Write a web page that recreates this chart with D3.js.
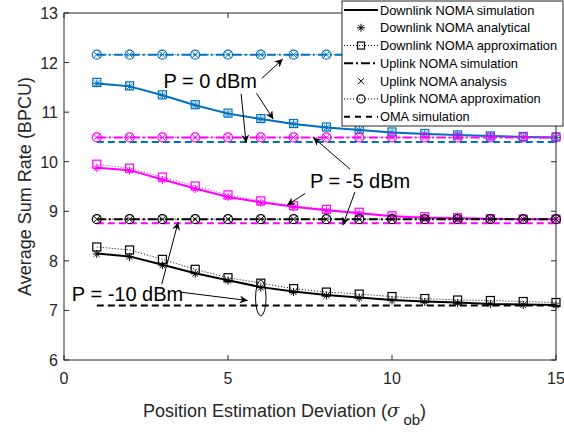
<!DOCTYPE html>
<html><head><meta charset="utf-8">
<script src="https://cdn.jsdelivr.net/npm/d3@7"></script>
<style>body{margin:0;background:#fff}svg{display:block}</style>
</head><body><svg id="c" width="564" height="434"></svg>
<script>
const xs = [1,2,3,4,5,6,7,8,9,10,11,12,13,14,15];
// P = 0 dBm (blue)
const dl0Sim    = [11.58,11.52,11.34,11.14,10.97,10.86,10.76,10.69,10.64,10.59,10.56,10.54,10.52,10.50,10.49];
const dl0Ana    = [11.58,11.52,11.34,11.14,10.97,10.86,10.76,10.69,10.64,10.59,10.56,10.54,10.52,10.50,10.49];
const dl0Apx    = [11.60,11.53,11.35,11.15,10.98,10.87,10.77,10.70,10.65,10.60,10.57,10.54,10.52,10.51,10.50];
const ul0       = [12.16,12.16,12.16,12.16,12.16,12.16,12.16,12.16,12.16,12.16,12.16,12.16,12.16,12.16,12.16];
const oma0      = [10.40,10.40,10.40,10.40,10.40,10.40,10.40,10.40,10.40,10.40,10.40,10.40,10.40,10.40,10.40];
// P = -5 dBm (magenta)
const dl5Sim    = [9.88,9.83,9.64,9.46,9.29,9.18,9.09,9.02,8.96,8.90,8.87,8.86,8.85,8.84,8.84];
const dl5Ana    = [9.87,9.82,9.63,9.45,9.29,9.17,9.08,9.01,8.96,8.90,8.87,8.86,8.85,8.84,8.84];
const dl5Apx    = [9.95,9.87,9.69,9.51,9.33,9.21,9.11,9.04,8.98,8.91,8.89,8.87,8.85,8.84,8.84];
const ul5       = [10.49,10.49,10.49,10.49,10.49,10.49,10.49,10.49,10.49,10.49,10.49,10.49,10.49,10.49,10.49];
const oma5      = [8.76,8.76,8.76,8.76,8.76,8.76,8.76,8.76,8.76,8.76,8.76,8.76,8.76,8.76,8.76];
// P = -10 dBm (black)
const dl10Sim   = [8.15,8.09,7.92,7.75,7.61,7.47,7.38,7.31,7.26,7.21,7.18,7.16,7.13,7.12,7.11];
const dl10Ana   = [8.14,8.08,7.91,7.74,7.60,7.46,7.37,7.30,7.25,7.20,7.17,7.15,7.13,7.11,7.10];
const dl10Apx   = [8.28,8.22,8.03,7.83,7.66,7.55,7.44,7.37,7.33,7.28,7.24,7.21,7.20,7.18,7.16];
const ul10      = [8.84,8.84,8.84,8.84,8.84,8.84,8.84,8.84,8.84,8.84,8.84,8.84,8.84,8.84,8.84];
const oma10     = [7.10,7.10,7.10,7.10,7.10,7.10,7.10,7.10,7.10,7.10,7.10,7.10,7.10,7.10,7.10];

const xTicks = [0,5,10,15];
const yTicks = [6,7,8,9,10,11,12,13];
const legendLabels = ["Downlink NOMA simulation","Downlink NOMA analytical","Downlink NOMA approximation",
  "Uplink NOMA simulation","Uplink NOMA analysis","Uplink NOMA approximation","OMA simulation"];
const powerLabels = ["P = 0 dBm","P = -5 dBm","P = -10 dBm"];
const powerColors = ["#0072BD","#FF00FF","#000000"];

const svg = d3.select("#c");
const FONT = "'Liberation Sans', Arial, Helvetica, sans-serif";
const AX = "#262626";
const L = 64, R = 556, T = 13, B = 360;
const x = d3.scaleLinear().domain([0,15]).range([L,R]);
const y = d3.scaleLinear().domain([6,13]).range([B,T]);

svg.append("defs").append("marker").attr("id","ah").attr("viewBox","0 0 10 10")
  .attr("refX",10).attr("refY",5).attr("markerWidth",11).attr("markerHeight",8)
  .attr("markerUnits","userSpaceOnUse").attr("orient","auto")
  .append("path").attr("d","M0,0 L10,5 L0,10 L3,5 Z").attr("fill","#000");

const plot = svg.append("g");
const line = d3.line().x((d,i)=>x(xs[i])).y(d=>y(d));

function drawLine(vals,color,w,dash){
  plot.append("path").attr("d",line(vals)).attr("fill","none").attr("stroke",color)
    .attr("stroke-width",w).attr("stroke-dasharray",dash||null);
}
function star(g,cx,cy,color,s){
  const r=s;
  const p=`M${cx-r},${cy}L${cx+r},${cy}M${cx},${cy-r}L${cx},${cy+r}M${cx-r*0.7},${cy-r*0.7}L${cx+r*0.7},${cy+r*0.7}M${cx-r*0.7},${cy+r*0.7}L${cx+r*0.7},${cy-r*0.7}`;
  g.append("path").attr("d",p).attr("stroke",color).attr("stroke-width",1).attr("fill","none");
}
function cross(g,cx,cy,color,s){
  const r=s;
  g.append("path").attr("d",`M${cx-r},${cy-r}L${cx+r},${cy+r}M${cx-r},${cy+r}L${cx+r},${cy-r}`)
    .attr("stroke",color).attr("stroke-width",1).attr("fill","none");
}
function square(g,cx,cy,color,s){
  g.append("rect").attr("x",cx-s).attr("y",cy-s).attr("width",2*s).attr("height",2*s)
    .attr("fill","none").attr("stroke",color).attr("stroke-width",1.2);
}
function circ(g,cx,cy,color,s){
  g.append("circle").attr("cx",cx).attr("cy",cy).attr("r",s)
    .attr("fill","none").attr("stroke",color).attr("stroke-width",1.2);
}

const groups = [
  {c:powerColors[0], sim:dl0Sim, ana:dl0Ana, apx:dl0Apx, ul:ul0, oma:oma0},
  {c:powerColors[1], sim:dl5Sim, ana:dl5Ana, apx:dl5Apx, ul:ul5, oma:oma5},
  {c:powerColors[2], sim:dl10Sim, ana:dl10Ana, apx:dl10Apx, ul:ul10, oma:oma10}
];
const DASHDOT = "9,3,2,3", DOT="1,2", DASH="7,4";
groups.forEach(g=>{
  drawLine(g.sim,g.c,2);
  g.ana.forEach((v,i)=>star(plot,x(xs[i]),y(v),g.c,4));
  drawLine(g.apx,g.c,1,DOT);
  g.apx.forEach((v,i)=>square(plot,x(xs[i]),y(v),g.c,4));
  drawLine(g.ul,g.c,2,DASHDOT);
  g.ul.forEach((v,i)=>cross(plot,x(xs[i]),y(v),g.c,3.5));
  drawLine(g.ul,g.c,1,DOT);
  g.ul.forEach((v,i)=>circ(plot,x(xs[i]),y(v),g.c,4.5));
  drawLine(g.oma,g.c,2,DASH);
});

const ax = svg.append("g");
ax.append("rect").attr("x",L).attr("y",T).attr("width",R-L).attr("height",B-T)
  .attr("fill","none").attr("stroke",AX).attr("stroke-width",1);
xTicks.forEach(t=>{
  ax.append("line").attr("x1",x(t)).attr("x2",x(t)).attr("y1",B).attr("y2",B-5).attr("stroke",AX);
  ax.append("line").attr("x1",x(t)).attr("x2",x(t)).attr("y1",T).attr("y2",T+5).attr("stroke",AX);
  ax.append("text").attr("x",x(t)).attr("y",B+24).attr("text-anchor","middle")
    .attr("font-family",FONT).attr("font-size",16).attr("fill",AX).text(t);
});
yTicks.forEach(t=>{
  ax.append("line").attr("x1",L).attr("x2",L+5).attr("y1",y(t)).attr("y2",y(t)).attr("stroke",AX);
  ax.append("line").attr("x1",R).attr("x2",R-5).attr("y1",y(t)).attr("y2",y(t)).attr("stroke",AX);
  ax.append("text").attr("x",L-6).attr("y",y(t)+6).attr("text-anchor","end")
    .attr("font-family",FONT).attr("font-size",16).attr("fill",AX).text(t);
});
ax.append("text").attr("transform",`translate(31,${(T+B)/2}) rotate(-90)`).attr("text-anchor","middle")
  .attr("font-family",FONT).attr("font-size",18).attr("fill",AX).text("Average Sum Rate (BPCU)");
const xl = ax.append("text").attr("x",143).attr("y",416.5)
  .attr("font-family",FONT).attr("font-size",18).attr("fill",AX);
xl.append("tspan").text("Position Estimation Deviation (");
xl.append("tspan").attr("font-style","italic").attr("font-family","'DejaVu Serif', serif").attr("font-size",18).text("σ");
xl.append("tspan").attr("dx",4).attr("dy",8).attr("font-size",15).text("ob");
xl.append("tspan").attr("dy",-8).text(")");

const ann = svg.append("g");
const annTexts = [
  {t:powerLabels[0], x:3.03, y:11.49},
  {t:powerLabels[1], x:7.50, y:9.46},
  {t:powerLabels[2], x:0.24, y:7.20}
];
annTexts.forEach(a=>ann.append("text").attr("x",x(a.x)).attr("y",y(a.y))
  .attr("font-family",FONT).attr("font-size",20).attr("fill","#000").text(a.t));
const arrows = [
  [6.03,11.68, 6.67,12.07],
  [5.87,11.38, 6.38,10.86],
  [5.40,11.37, 5.55,10.38],
  [8.72,9.85, 7.60,10.49],
  [8.87,9.39, 8.50,8.72],
  [7.35,9.36, 6.80,9.12],
  [3.54,7.37, 5.60,7.20],
  [2.98,7.53, 3.48,8.78]
];
arrows.forEach(a=>ann.append("line").attr("x1",x(a[0])).attr("y1",y(a[1])).attr("x2",x(a[2])).attr("y2",y(a[3]))
  .attr("stroke","#000").attr("stroke-width",1).attr("marker-end","url(#ah)"));
const ellipse = {cx:6.0, cy:7.25, rx:0.16, ry:0.36};
ann.append("ellipse").attr("cx",x(ellipse.cx)).attr("cy",y(ellipse.cy))
  .attr("rx",x(ellipse.cx+ellipse.rx)-x(ellipse.cx)).attr("ry",y(ellipse.cy-ellipse.ry)-y(ellipse.cy))
  .attr("fill","none").attr("stroke","#000").attr("stroke-width",1);

const lg = svg.append("g");
lg.append("rect").attr("x",342).attr("y",1).attr("width",221).attr("height",125)
  .attr("fill","#fff").attr("stroke",AX).attr("stroke-width",1);
const rowY = d3.scaleLinear().domain([0,6]).range([10,116.7]);
const sx0=344, sx1=378, sxc=(sx0+sx1)/2;
legendLabels.forEach((lab,i)=>{
  const yy = rowY(i);
  lg.append("text").attr("x",380).attr("y",yy+4.5).attr("font-family",FONT).attr("font-size",12.8)
    .attr("fill","#000").text(lab);
  const seg=(w,dash)=>lg.append("line").attr("x1",sx0).attr("x2",sx1).attr("y1",yy).attr("y2",yy)
    .attr("stroke","#000").attr("stroke-width",w).attr("stroke-dasharray",dash||null);
  if(i===0) seg(2);
  if(i===1) star(lg,sxc,yy,"#000",4);
  if(i===2){ seg(1,DOT); square(lg,sxc,yy,"#000",3.5); }
  if(i===3) seg(2,DASHDOT);
  if(i===4) cross(lg,sxc,yy,"#000",3);
  if(i===5){ seg(1,DOT); circ(lg,sxc,yy,"#000",4); }
  if(i===6) seg(2,"6,5");
});
</script></body></html>
